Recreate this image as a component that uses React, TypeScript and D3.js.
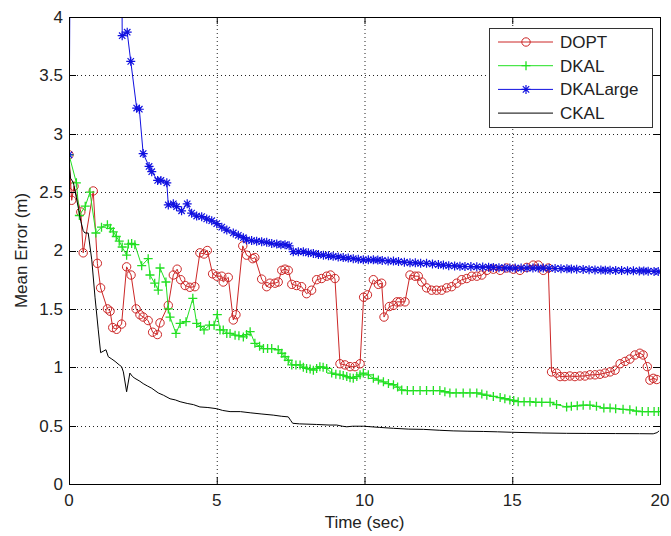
import React from 'react';
import * as d3 from 'd3';

type P = [number, number];

const X_TICKS = [0, 5, 10, 15, 20];
const Y_TICKS = [0, 0.5, 1, 1.5, 2, 2.5, 3, 3.5, 4];
const X_TICK_LABELS = ['0', '5', '10', '15', '20'];
const Y_TICK_LABELS = ['0', '0.5', '1', '1.5', '2', '2.5', '3', '3.5', '4'];
const SERIES_NAMES = ['DOPT', 'DKAL', 'DKALarge', 'CKAL'];

const DOPT: P[] = [
  [0, 2.82], [0.09, 2.43], [0.17, 2.55], [0.4, 2.33], [0.48, 1.98], [0.82, 2.51], [0.96, 1.89],
  [1.07, 1.68], [1.3, 1.5], [1.39, 1.48], [1.48, 1.34], [1.61, 1.325], [1.78, 1.37], [1.95, 1.86],
  [2.1, 1.79], [2.27, 1.5], [2.4, 1.45], [2.51, 1.43], [2.68, 1.4], [2.83, 1.3], [2.99, 1.28],
  [3.08, 1.38], [3.36, 1.53], [3.53, 1.79], [3.66, 1.84], [3.78, 1.75], [3.93, 1.7], [4.09, 1.685],
  [4.26, 1.69], [4.43, 1.98], [4.57, 1.97], [4.68, 2.0], [4.86, 1.8], [5.0, 1.78], [5.17, 1.78],
  [5.22, 1.73], [5.39, 1.77], [5.56, 1.405], [5.65, 1.45], [5.88, 2.04], [6.01, 1.96], [6.22, 1.93],
  [6.29, 1.94], [6.52, 1.755], [6.69, 1.69], [6.8, 1.72], [6.97, 1.72], [7.08, 1.73], [7.2, 1.83],
  [7.31, 1.84], [7.42, 1.83], [7.54, 1.71], [7.7, 1.7], [7.87, 1.69], [8.04, 1.63], [8.21, 1.66],
  [8.38, 1.75], [8.55, 1.76], [8.72, 1.78], [8.85, 1.79], [9.0, 1.76], [9.17, 1.03], [9.34, 1.02],
  [9.51, 1.005], [9.68, 1.005], [9.85, 1.03], [9.97, 1.6], [10.1, 1.62], [10.3, 1.75], [10.47, 1.71],
  [10.58, 1.72], [10.66, 1.43], [10.84, 1.52], [10.98, 1.53], [11.1, 1.56], [11.2, 1.56], [11.37, 1.56],
  [11.54, 1.79], [11.71, 1.78], [11.82, 1.78], [11.94, 1.73], [12.1, 1.68], [12.27, 1.66], [12.44, 1.66],
  [12.61, 1.66], [12.78, 1.68], [12.95, 1.69], [13.12, 1.72], [13.29, 1.75], [13.46, 1.76], [13.63, 1.78],
  [13.8, 1.78], [13.97, 1.79], [14.14, 1.83], [14.36, 1.84], [14.59, 1.83], [14.81, 1.85], [15.04, 1.84],
  [15.26, 1.83], [15.49, 1.855], [15.71, 1.875], [15.88, 1.875], [16.05, 1.83], [16.22, 1.85], [16.33, 0.96],
  [16.5, 0.95], [16.62, 0.92], [16.78, 0.92], [16.95, 0.925], [17.12, 0.92], [17.29, 0.925], [17.46, 0.925],
  [17.63, 0.935], [17.8, 0.935], [17.97, 0.94], [18.14, 0.95], [18.31, 0.96], [18.48, 0.975], [18.65, 1.03],
  [18.82, 1.05], [18.98, 1.07], [19.15, 1.105], [19.32, 1.12], [19.43, 1.105], [19.57, 1.005], [19.66, 0.89],
  [19.77, 0.905], [19.89, 0.895],
];

const DKAL: P[] = [
  [0, 2.82], [0.25, 2.58], [0.35, 2.3], [0.55, 2.38], [0.71, 2.5], [0.91, 2.15], [1.1, 2.2], [1.3, 2.22],
  [1.4, 2.19], [1.5, 2.16], [1.6, 2.12], [1.7, 2.08], [1.8, 2.03], [1.95, 1.96], [2.01, 2.055], [2.12, 2.06],
  [2.23, 2.05], [2.46, 1.87], [2.68, 1.93], [2.74, 1.79], [2.9, 1.72], [3.02, 1.66], [3.08, 1.85], [3.28, 1.73],
  [3.36, 1.5], [3.42, 1.43], [3.62, 1.29], [3.76, 1.375], [3.96, 1.39], [4.19, 1.59], [4.32, 1.375], [4.45, 1.35],
  [4.57, 1.32], [4.75, 1.36], [4.91, 1.36], [5.02, 1.45], [5.11, 1.32], [5.22, 1.32], [5.34, 1.29], [5.45, 1.29],
  [5.62, 1.275], [5.75, 1.27], [5.9, 1.26], [6.01, 1.28], [6.13, 1.305], [6.29, 1.205], [6.45, 1.18], [6.58, 1.16],
  [6.72, 1.16], [6.86, 1.16], [7.08, 1.15], [7.2, 1.12], [7.31, 1.09], [7.42, 1.06], [7.54, 1.02], [7.68, 1.02],
  [7.82, 1.02], [7.93, 1.0], [8.04, 0.99], [8.16, 0.985], [8.27, 0.975], [8.38, 0.99], [8.49, 1.005], [8.6, 1.0],
  [8.72, 0.99], [8.89, 0.95], [9.03, 0.94], [9.17, 0.935], [9.28, 0.93], [9.4, 0.92], [9.51, 0.91], [9.62, 0.905],
  [9.74, 0.92], [9.85, 0.935], [9.96, 0.95], [10.13, 0.935], [10.3, 0.905], [10.47, 0.89], [10.64, 0.875],
  [10.81, 0.86], [10.98, 0.85], [11.12, 0.83], [11.26, 0.805], [11.45, 0.8], [11.65, 0.8], [11.88, 0.8],
  [12.1, 0.8], [12.33, 0.8], [12.55, 0.8], [12.72, 0.79], [12.89, 0.78], [13.1, 0.78], [13.34, 0.78],
  [13.57, 0.78], [13.8, 0.78], [13.97, 0.77], [14.14, 0.76], [14.36, 0.75], [14.59, 0.74], [14.75, 0.73],
  [14.92, 0.72], [15.05, 0.715], [15.2, 0.705], [15.4, 0.705], [15.6, 0.705], [15.8, 0.7], [16.0, 0.7],
  [16.28, 0.7], [16.5, 0.68], [16.84, 0.66], [17.0, 0.665], [17.2, 0.67], [17.4, 0.675], [17.63, 0.675],
  [17.85, 0.665], [18.1, 0.65], [18.31, 0.65], [18.5, 0.645], [18.75, 0.64], [18.98, 0.635], [19.2, 0.625],
  [19.4, 0.62], [19.6, 0.62], [19.8, 0.62], [19.95, 0.62],
];

const DKALARGE: P[] = [
  [0, 2.82], [0.07, 6.0], [0.6, 5.6], [1.2, 5.0], [1.79, 4.4], [1.8, 3.84], [1.97, 3.87], [2.09, 3.62],
  [2.29, 3.22], [2.38, 3.21], [2.51, 2.83], [2.71, 2.72], [2.8, 2.675], [3.0, 2.6], [3.11, 2.6], [3.31, 2.58],
  [3.36, 2.39], [3.53, 2.4], [3.64, 2.375], [3.81, 2.34], [4.0, 2.4], [4.15, 2.32], [4.32, 2.295], [4.49, 2.29],
  [4.66, 2.27], [4.83, 2.255], [5.0, 2.23], [5.17, 2.2], [5.34, 2.175], [5.56, 2.15], [5.73, 2.13], [5.9, 2.11],
  [6.01, 2.09], [6.18, 2.085], [6.35, 2.08], [6.52, 2.075], [6.69, 2.07], [6.86, 2.06], [7.03, 2.055],
  [7.17, 2.05], [7.31, 2.05], [7.45, 2.04], [7.59, 1.99], [7.76, 1.99], [7.93, 1.99], [8.1, 1.98], [8.27, 1.975],
  [8.44, 1.965], [8.61, 1.96], [8.78, 1.955], [8.94, 1.95], [9.11, 1.945], [9.28, 1.94], [9.45, 1.935],
  [9.62, 1.93], [9.79, 1.925], [9.96, 1.92], [10.13, 1.92], [10.3, 1.92], [10.45, 1.918], [10.6, 1.915],
  [10.8, 1.91], [10.98, 1.91], [11.15, 1.905], [11.35, 1.9], [11.54, 1.895], [11.72, 1.895], [11.9, 1.89],
  [12.1, 1.89], [12.3, 1.885], [12.5, 1.88], [12.67, 1.875], [12.85, 1.87], [13.05, 1.868], [13.23, 1.865],
  [13.4, 1.863], [13.6, 1.862], [13.8, 1.86], [14.0, 1.858], [14.2, 1.857], [14.36, 1.855], [14.55, 1.853],
  [14.75, 1.851], [14.92, 1.85], [15.1, 1.85], [15.3, 1.85], [15.5, 1.85], [15.7, 1.85], [15.88, 1.85],
  [16.05, 1.85], [16.25, 1.848], [16.45, 1.846], [16.65, 1.844], [16.85, 1.843], [17.0, 1.842], [17.18, 1.84],
  [17.4, 1.838], [17.6, 1.836], [17.8, 1.834], [18.0, 1.832], [18.15, 1.831], [18.31, 1.83], [18.5, 1.829],
  [18.7, 1.828], [18.9, 1.827], [19.1, 1.826], [19.3, 1.825], [19.45, 1.825], [19.6, 1.823], [19.8, 1.821],
  [19.94, 1.82],
];

const CKAL: P[] = [
  [0, 2.82], [0.02, 2.7], [0.05, 2.62], [0.15, 2.58], [0.25, 2.45], [0.32, 2.36], [0.4, 2.25], [0.48, 2.17],
  [0.54, 2.15], [0.65, 2.15], [0.77, 1.92], [0.88, 1.6], [0.99, 1.32], [1.07, 1.125], [1.18, 1.14], [1.25, 1.15],
  [1.33, 1.09], [1.45, 1.07], [1.56, 1.05], [1.7, 1.02], [1.78, 1.005], [1.84, 0.96], [1.95, 0.79], [2.06, 0.95],
  [2.15, 0.92], [2.23, 0.905], [2.4, 0.88], [2.51, 0.86], [2.65, 0.84], [2.8, 0.82], [3.02, 0.78], [3.2, 0.76],
  [3.42, 0.73], [3.6, 0.72], [3.76, 0.705], [4.0, 0.69], [4.21, 0.68], [4.43, 0.66], [4.7, 0.655], [5.0, 0.645],
  [5.2, 0.63], [5.45, 0.62], [5.8, 0.62], [6.13, 0.61], [6.5, 0.6], [6.91, 0.59], [7.2, 0.58], [7.42, 0.575],
  [7.5, 0.545], [7.57, 0.52], [7.8, 0.515], [8.38, 0.51], [8.8, 0.505], [9.06, 0.505], [9.25, 0.495],
  [9.4, 0.49], [9.6, 0.495], [9.96, 0.495], [10.5, 0.485], [10.98, 0.477], [11.5, 0.47], [12.0, 0.468],
  [12.55, 0.46], [13.0, 0.455], [13.5, 0.452], [14.02, 0.45], [14.5, 0.447], [14.98, 0.443], [15.5, 0.44],
  [16.0, 0.437], [16.84, 0.434], [17.5, 0.433], [18.5, 0.432], [19.3, 0.431], [19.77, 0.43], [19.9, 0.44],
  [19.97, 0.455],
];

const FONT = '"Liberation Sans", Arial, Helvetica, sans-serif';
const RED = '#cc2626';
const GREEN = '#22e022';
const BLUE = '#1010e0';
const BLACK = '#000000';

type MarkerKind = 'circle' | 'plus' | 'star' | 'none';

function Marker({ kind, cx, cy, color }: { kind: MarkerKind; cx: number; cy: number; color: string }) {
  const s = 4.5;
  if (kind === 'circle') return <circle cx={cx} cy={cy} r={4.2} fill="none" stroke={color} strokeWidth={1} />;
  if (kind === 'plus')
    return (
      <path d={`M${cx - s},${cy}H${cx + s}M${cx},${cy - s}V${cy + s}`} stroke={color} strokeWidth={1.3} fill="none" />
    );
  if (kind === 'star') {
    const d = 3.2;
    return (
      <path
        d={`M${cx - s},${cy}H${cx + s}M${cx},${cy - s}V${cy + s}M${cx - d},${cy - d}L${cx + d},${cy + d}M${cx - d},${cy + d}L${cx + d},${cy - d}`}
        stroke={color}
        strokeWidth={1.2}
        fill="none"
      />
    );
  }
  return null;
}

export default function App() {
  const W = 671;
  const H = 536;
  const L = 69, R = 660, T = 17, B = 484;
  const x = d3.scaleLinear().domain([0, 20]).range([L, R]);
  const y = d3.scaleLinear().domain([0, 4]).range([B, T]);
  const line = d3.line<P>().x((d) => x(d[0])).y((d) => y(d[1]));

  const series: { name: string; data: P[]; color: string; marker: MarkerKind }[] = [
    { name: SERIES_NAMES[0], data: DOPT, color: RED, marker: 'circle' },
    { name: SERIES_NAMES[1], data: DKAL, color: GREEN, marker: 'plus' },
    { name: SERIES_NAMES[2], data: DKALARGE, color: BLUE, marker: 'star' },
    { name: SERIES_NAMES[3], data: CKAL, color: BLACK, marker: 'none' },
  ];

  const tickLen = 7;
  const legX = 489, legY = 28, legW = 163, legH = 99;

  return (
    <svg width={W} height={H} style={{ position: 'absolute', left: 0, top: 0, background: '#fff' }} fontFamily={FONT}>
      <rect x={0} y={0} width={W} height={H} fill="#fff" />
      <defs>
        <clipPath id="plotclip">
          <rect x={L} y={T} width={R - L} height={B - T} />
        </clipPath>
      </defs>
      {/* grid */}
      <g stroke="#222" strokeWidth={1} strokeDasharray="1,3">
        {X_TICKS.slice(1, -1).map((t) => (
          <line key={'gx' + t} x1={x(t) + 0.5} x2={x(t) + 0.5} y1={T} y2={B} />
        ))}
        {Y_TICKS.slice(1, -1).map((t) => (
          <line key={'gy' + t} x1={L} x2={R} y1={Math.round(y(t)) + 0.5} y2={Math.round(y(t)) + 0.5} />
        ))}
      </g>
      {/* series */}
      <g clipPath="url(#plotclip)">
        {series.map((s) => (
          <g key={s.name}>
            <path d={line(s.data) || ''} fill="none" stroke={s.color} strokeWidth={1} />
            {s.marker !== 'none' &&
              s.data.map((d, i) => <Marker key={i} kind={s.marker} cx={x(d[0])} cy={y(d[1])} color={s.color} />)}
          </g>
        ))}
      </g>
      {/* axes box and ticks */}
      <rect x={L + 0.5} y={T + 0.5} width={R - L} height={B - T} fill="none" stroke="#000" strokeWidth={1} />
      <g stroke="#000" strokeWidth={1}>
        {X_TICKS.map((t) => (
          <g key={'tx' + t}>
            <line x1={x(t) + 0.5} x2={x(t) + 0.5} y1={B} y2={B - tickLen} />
            <line x1={x(t) + 0.5} x2={x(t) + 0.5} y1={T} y2={T + tickLen} />
          </g>
        ))}
        {Y_TICKS.map((t) => (
          <g key={'ty' + t}>
            <line x1={L} x2={L + tickLen} y1={Math.round(y(t)) + 0.5} y2={Math.round(y(t)) + 0.5} />
            <line x1={R} x2={R - tickLen} y1={Math.round(y(t)) + 0.5} y2={Math.round(y(t)) + 0.5} />
          </g>
        ))}
      </g>
      {/* tick labels */}
      <g fontSize={17} fill="#222">
        {X_TICKS.map((t, i) => (
          <text key={'lx' + t} x={x(t)} y={506} textAnchor="middle">
            {X_TICK_LABELS[i]}
          </text>
        ))}
        {Y_TICKS.map((t, i) => (
          <text key={'ly' + t} x={63} y={y(t)} dy="0.35em" textAnchor="end">
            {Y_TICK_LABELS[i]}
          </text>
        ))}
      </g>
      {/* axis labels */}
      <text x={(L + R) / 2} y={528} textAnchor="middle" fontSize={17} fill="#222">
        Time (sec)
      </text>
      <text transform={`translate(27,${(T + B) / 2}) rotate(-90)`} textAnchor="middle" fontSize={17} fill="#222">
        Mean Error (m)
      </text>
      {/* legend */}
      <rect x={legX + 0.5} y={legY + 0.5} width={legW} height={legH} fill="#fff" stroke="#333" strokeWidth={1} />
      {series.map((s, i) => {
        const cy = 42 + i * 23.7;
        return (
          <g key={'leg' + s.name}>
            <line x1={498} x2={553} y1={cy} y2={cy} stroke={s.color} strokeWidth={1} />
            <Marker kind={s.marker} cx={526} cy={cy} color={s.color} />
            <text x={560} y={cy} dy="0.35em" fontSize={17} fill="#222">
              {s.name}
            </text>
          </g>
        );
      })}
    </svg>
  );
}
